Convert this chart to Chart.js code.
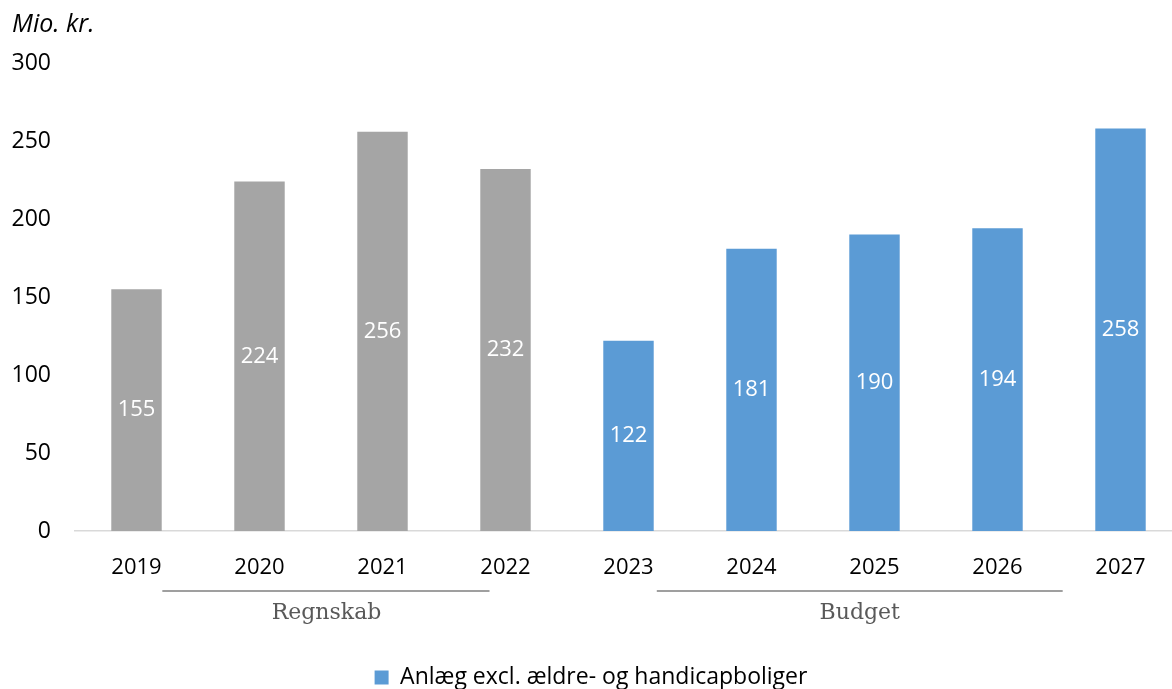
<!DOCTYPE html>
<html>
<head>
<meta charset="utf-8">
<script src="https://cdn.jsdelivr.net/npm/chart.js@4"></script>
<style>
html,body{margin:0;padding:0;background:#fff;overflow:hidden;}
#wrap{width:1182px;height:689px;position:relative;}
</style>
</head>
<body>
<div id="wrap"><canvas id="c"></canvas></div>
<script>
const categories = ['2019','2020','2021','2022','2023','2024','2025','2026','2027'];
const values = [155, 224, 256, 232, 122, 181, 190, 194, 258];
const periodType = ['Regnskab','Regnskab','Regnskab','Regnskab','Budget','Budget','Budget','Budget','Budget'];
const seriesName = 'Anlæg excl. ældre- og handicapboliger';
const yTicks = [0, 50, 100, 150, 200, 250, 300];
const unitLabel = 'Mio. kr.';

const GRAY = '#A5A5A5', BLUE = '#5B9BD5';
const barColors = periodType.map(p => p === 'Regnskab' ? GRAY : BLUE);

const FONT = "'Open Sans', sans-serif";

const groupPlugin = {
  id: 'groups',
  afterDraw(chart) {
    const ctx = chart.ctx;
    const x = chart.scales.x;
    const groups = [
      {label: 'Regnskab', from: 0.21, to: 2.87, center: 1.545},
      {label: 'Budget', from: 4.23, to: 7.53, center: 5.88}
    ];
    ctx.save();
    ctx.font = "italic 25px " + FONT;
    ctx.fillStyle = '#000';
    ctx.textAlign = 'left';
    ctx.textBaseline = 'middle';
    ctx.fillText(unitLabel, 12, 25);
    groups.forEach(g => {
      const x1 = x.getPixelForValue(g.from), x2 = x.getPixelForValue(g.to);
      ctx.strokeStyle = '#7F7F7F';
      ctx.lineWidth = 1.3;
      ctx.beginPath();
      ctx.moveTo(x1, 591);
      ctx.lineTo(x2, 591);
      ctx.stroke();
      ctx.font = "22px 'DejaVu Serif', serif";
      ctx.fillStyle = '#595959';
      ctx.textAlign = 'center';
      ctx.textBaseline = 'middle';
      ctx.fillText(g.label, x.getPixelForValue(g.center), 613);
    });
    const meta = chart.getDatasetMeta(0);
    ctx.font = "22px " + FONT;
    ctx.fillStyle = '#fff';
    meta.data.forEach((bar, i) => {
      const p = bar.getProps(['x','y','base'], true);
      ctx.fillText(String(values[i]), p.x, (p.y + p.base) / 2);
    });
    ctx.restore();
  }
};

new Chart(document.getElementById('c'), {
  type: 'bar',
  data: {
    labels: categories,
    datasets: [{
      label: seriesName,
      data: values,
      backgroundColor: barColors,
      barPercentage: 0.41,
      categoryPercentage: 1.0
    }]
  },
  options: {
    responsive: true,
    maintainAspectRatio: false,
    animation: false,
    layout: {padding: {top: 63, left: 0, right: 0, bottom: -10}},
    scales: {
      x: {
        grid: {display: false, drawTicks: false},
        border: {display: true, color: '#D9D9D9', width: 1.5},
        ticks: {color: '#000', font: {family: FONT, size: 22}, padding: 24},
        afterFit(s) { s.height = 131; }
      },
      y: {
        min: 0, max: 300,
        afterBuildTicks(s) { s.ticks = yTicks.map(v => ({value: v})); },
        grid: {display: false, drawTicks: false},
        border: {display: false},
        ticks: {color: '#000', font: {family: FONT, size: 23}, padding: 24},
        afterFit(s) { s.width = 75; }
      }
    },
    plugins: {
      legend: {
        position: 'bottom',
        labels: {
          color: '#000',
          font: {family: FONT, size: 23},
          boxWidth: 14, boxHeight: 14,
          padding: 4,
          generateLabels() {
            return [{text: seriesName, fillStyle: BLUE, strokeStyle: BLUE, lineWidth: 0, hidden: false, datasetIndex: 0}];
          }
        }
      },
      tooltip: {enabled: false}
    }
  },
  plugins: [groupPlugin]
});
</script>
</body>
</html>
